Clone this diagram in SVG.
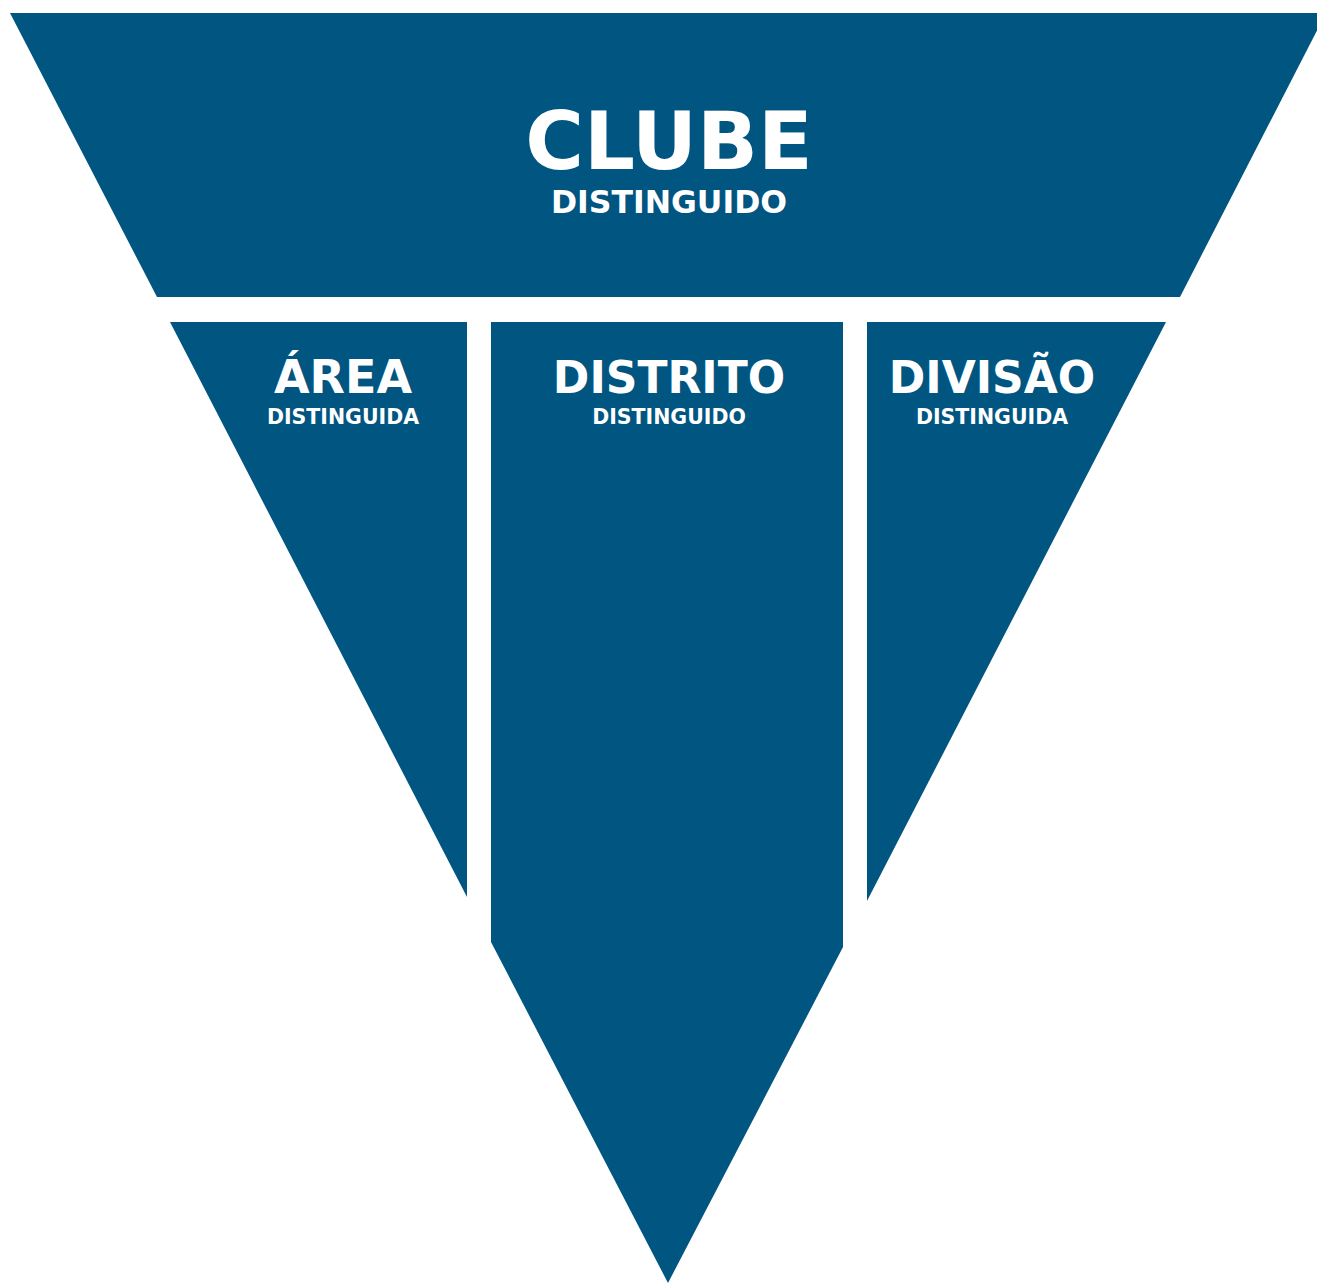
<svg xmlns="http://www.w3.org/2000/svg" width="1317" height="1283" viewBox="0 0 1317 1283">
<style>
.seg{fill:#015581;}
.t{fill:#ffffff;font-family:"DejaVu Sans",sans-serif;font-weight:bold;text-anchor:middle;}
</style>
<rect width="1317" height="1283" fill="#ffffff"/>
<g id="clube">
<polygon class="seg" points="10,13 1326,13 1180,297 157,297"/>
<text class="t" x="669" y="169" font-size="80">CLUBE</text>
<text class="t" x="669" y="213" font-size="31.5">DISTINGUIDO</text>
</g>
<g id="area">
<polygon class="seg" points="170,322 467,322 467,897"/>
<text class="t" x="343" y="393" font-size="46">ÁREA</text>
<text class="t" x="343" y="424" font-size="20.5">DISTINGUIDA</text>
</g>
<g id="distrito">
<polygon class="seg" points="491,322 843,322 843,947 668,1283 491,942"/>
<text class="t" x="669" y="393" font-size="44">DISTRITO</text>
<text class="t" x="669" y="424" font-size="20.5">DISTINGUIDO</text>
</g>
<g id="divisao">
<polygon class="seg" points="867,322 1166,322 867,901"/>
<text class="t" x="992" y="393" font-size="44">DIVISÃO</text>
<text class="t" x="992" y="424" font-size="20.5">DISTINGUIDA</text>
</g>
<g id="connectors"/>
</svg>
